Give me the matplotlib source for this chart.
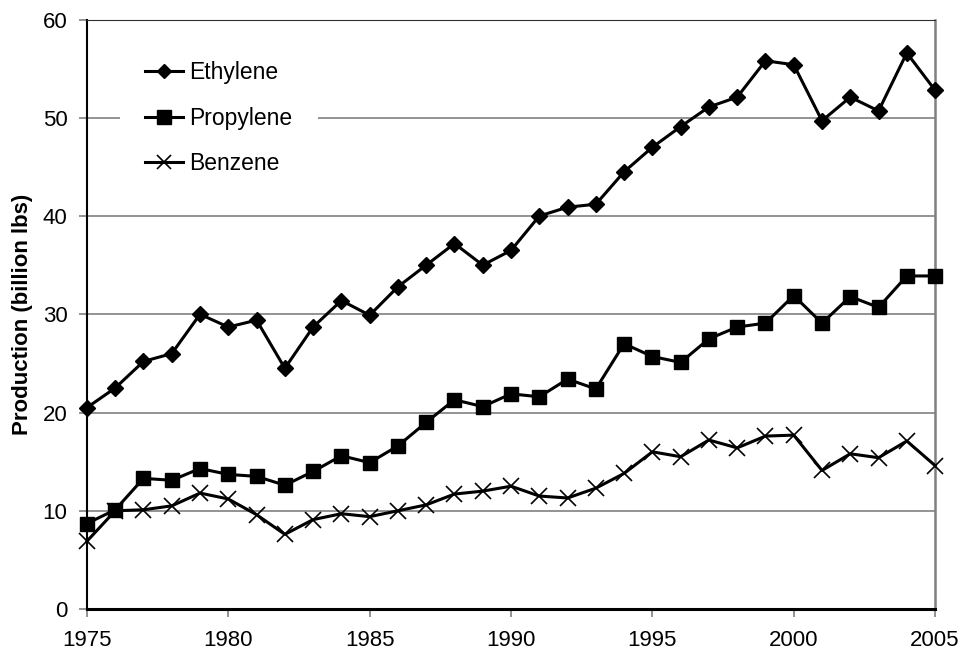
import numpy as np
import matplotlib
matplotlib.use("Agg")
import matplotlib.pyplot as plt

plt.rcParams['font.family'] = ['Liberation Sans', 'DejaVu Sans']

years = list(range(1975, 2006))
ethylene = [20.5, 22.5, 25.2, 26.0, 30.0, 28.7, 29.4, 24.5, 28.7, 31.4,
            29.9, 32.8, 35.0, 37.2, 35.0, 36.5, 40.0, 40.9, 41.2, 44.5,
            47.0, 49.1, 51.1, 52.1, 55.8, 55.4, 49.7, 52.1, 50.7, 56.6, 52.8]
propylene = [8.7, 10.1, 13.3, 13.1, 14.3, 13.7, 13.5, 12.6, 14.0, 15.6,
             14.9, 16.6, 19.0, 21.3, 20.6, 21.9, 21.6, 23.4, 22.4, 27.0,
             25.7, 25.1, 27.5, 28.7, 29.1, 31.9, 29.1, 31.8, 30.7, 33.9, 33.9]
benzene = [6.9, 10.0, 10.1, 10.5, 11.8, 11.2, 9.6, 7.6, 9.1, 9.7,
           9.4, 10.0, 10.6, 11.7, 12.0, 12.5, 11.5, 11.3, 12.3, 13.8,
           16.0, 15.5, 17.2, 16.4, 17.6, 17.7, 14.1, 15.8, 15.4, 17.1, 14.6]

fig = plt.figure(figsize=(9.66, 6.51), dpi=100)
ax = fig.add_axes([0.090, 0.0645, 0.878, 0.9055])

ax.plot(years, ethylene, color='black', lw=2.2, marker='D', ms=8, label='Ethylene', clip_on=False, zorder=3)
ax.plot(years, propylene, color='black', lw=2.2, marker='s', ms=10.5, label='Propylene', clip_on=False, zorder=3)
ax.plot(years, benzene, color='black', lw=2.2, marker='x', ms=11, mew=1.2, label='Benzene', clip_on=False, zorder=3)

ax.set_xlim(1975, 2005)
ax.set_ylim(0, 60)
ax.set_xticks(range(1975, 2006, 5))
ax.set_yticks(range(0, 61, 10))
ax.yaxis.grid(True, color='#808080', lw=1.2)
ax.set_axisbelow(True)

ax.spines['left'].set_color('black')
ax.spines['bottom'].set_color('black')
ax.spines['left'].set_linewidth(1.5)
ax.spines['bottom'].set_linewidth(2.2)
ax.spines['top'].set_color('#303030')
ax.spines['right'].set_color('#808080')
ax.spines['right'].set_linewidth(1.8)
ax.tick_params(axis='both', labelsize=16, direction='out', length=6, width=1.2,
               color='#808080')
ax.tick_params(axis='y', pad=8)
ax.tick_params(axis='x', pad=9)

ax.set_ylabel('Production (billion lbs)', fontsize=16, fontweight='bold', labelpad=7)

leg = ax.legend(loc='upper left', bbox_to_anchor=(0.039, 0.973), frameon=True, fontsize=16.5,
                handlelength=1.66, handletextpad=0.26, labelspacing=1.0, borderpad=1.1,
                borderaxespad=0, markerscale=0.95)
leg.get_frame().set_edgecolor('none')
leg.get_frame().set_facecolor('white')
leg.get_frame().set_alpha(1)
leg.get_frame().set_boxstyle('square', pad=0)

fig.savefig('out.png', dpi=100)
